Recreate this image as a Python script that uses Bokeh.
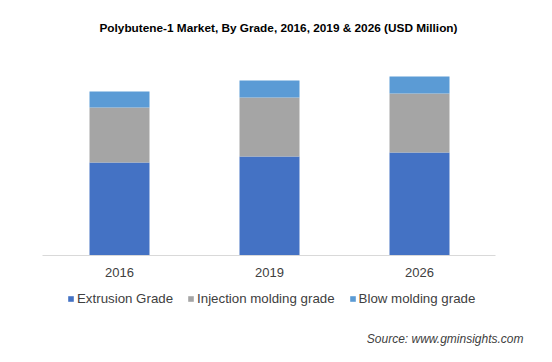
from bokeh.plotting import figure
from bokeh.models import Legend, LegendItem, Label, ColumnDataSource, Range1d, FactorRange
from bokeh.embed import file_html
from bokeh.resources import INLINE

years = ["2016", "2019", "2026"]
extrusion = [93, 99, 103]
injection = [55, 59, 59]
blow = [16, 17, 17]
series = ["Extrusion Grade", "Injection molding grade", "Blow molding grade"]
colors = ["#4472C4", "#A5A5A5", "#5B9BD5"]

FONT = "Liberation Sans"

src = ColumnDataSource(dict(year=years, e=extrusion, i=injection, b=blow))

p = figure(x_range=FactorRange(*years), y_range=Range1d(-107, 210),
           width=552, height=362, output_backend="svg", toolbar_location=None,
           y_axis_location=None, min_border_left=12, min_border_right=26,
           min_border_top=45, min_border_bottom=0)

p.title.text = "Polybutene-1 Market, By Grade, 2016, 2019 & 2026 (USD Million)"
p.title.align = "left"
p.title.offset = 87
p.title.text_font = FONT
p.title.text_font_style = "bold"
p.title.text_font_size = "11.8px"
p.title.text_color = "#000000"
p.title.standoff = 22

rs = p.vbar_stack(["e", "i", "b"], x="year", width=0.4, color=colors, source=src,
                  line_width=0)

p.x_range.range_padding = 0.1422
p.x_range.range_padding_units = "percent"
p.xgrid.visible = False
p.ygrid.visible = False
p.outline_line_color = None

ax = p.xaxis[0]
ax.fixed_location = 0
ax.bounds = (-0.013, 3.007)
ax.axis_line_color = "#D9D9D9"
ax.major_tick_line_color = None
ax.minor_tick_line_color = None
ax.major_label_text_font = FONT
ax.major_label_text_font_size = "13px"
ax.major_label_text_color = "#404040"
ax.major_label_standoff = 6

legend = Legend(items=[LegendItem(label=s, renderers=[r]) for s, r in zip(series, rs)],
                orientation="horizontal", location=(55, 56),
                glyph_width=7, glyph_height=7, label_standoff=3, spacing=14,
                padding=0, margin=0, border_line_alpha=0, background_fill_alpha=0,
                label_text_font=FONT, label_text_font_size="13.3px",
                label_text_color="#404040", label_height=13)
p.add_layout(legend, "center")

source = Label(x=511, y=17, x_units="screen", y_units="screen",
               text="Source: www.gminsights.com", text_align="right",
               text_font=FONT, text_font_style="italic", text_font_size="12px",
               text_color="#404040")
p.add_layout(source)

open("out.html", "w").write(file_html(p, INLINE))
